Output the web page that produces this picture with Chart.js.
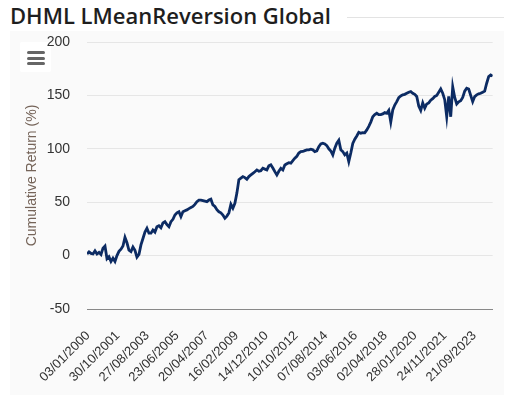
<!DOCTYPE html>
<html>
<head>
<meta charset="utf-8">
<script src="https://cdn.jsdelivr.net/npm/chart.js@4.4.1/dist/chart.umd.min.js"></script>
<style>
  body { margin: 0; background: #fff; width: 514px; height: 395px; overflow: hidden; position: relative; }
  #title {
    position: absolute; left: 10px; top: 0; margin: 0;
    font-family: "Open Sans", sans-serif; font-weight: 600; font-size: 22px; line-height: 30px;
    color: #1e1e1e; white-space: nowrap;
  }
  #rule { position: absolute; left: 347px; top: 17px; width: 157px; height: 1px; background: #e3e3e3; }
  #panel { position: absolute; left: 10px; top: 31px; width: 494px; height: 364px; background: #fafafa; }
  #menu { position: absolute; left: 10px; top: 11px; width: 31px; height: 30px; background: #fff; border-radius: 2px; }
  #menu span { position: absolute; left: 7px; width: 18px; height: 3px; background: #666; border-radius: 2px; }
  canvas { position: absolute; left: 0; top: 0; }
</style>
</head>
<body>
<div id="title">DHML LMeanReversion Global</div>
<div id="rule"></div>
<div id="panel">
  <div id="menu"><span style="top:9px"></span><span style="top:14.5px"></span><span style="top:20px"></span></div>
  <canvas id="chart" width="494" height="364"></canvas>
</div>
<script>
// x axis date labels, one every TICK_EVERY trading days
const dateLabels = [
  "03/01/2000", "30/10/2001", "27/08/2003", "23/06/2005", "20/04/2007",
  "16/02/2009", "14/12/2010", "10/10/2012", "07/08/2014", "03/06/2016",
  "02/04/2018", "28/01/2020", "24/11/2021", "21/09/2023"
];
const TICK_EVERY = 476;
const STEP = 32; // trading days between the values below

// cumulative return (%)
const cumulativeReturn = [
  1.5, 3.5, 2, 1.5, 4.4, 1.5, 3, 1, 7, 9,
  -3, -1, -5.5, -2.5, -5.5, 0, 4, 6, 9, 17,
  12, 5, 3.7, 8, 5, -1.5, 1, 10, 16, 22,
  25.6, 21, 21, 24, 22, 27, 28, 26, 30.5, 31.8,
  29, 27, 31.8, 34, 38, 40, 41, 36.5, 41, 42,
  42.8, 44, 45, 46, 48, 50.5, 52, 52, 51.5, 51,
  50.5, 52, 52.8, 47.5, 46, 43, 41, 40, 38, 35,
  37, 40, 48, 44.4, 49, 58.5, 71, 72.5, 74, 73,
  71.5, 74, 75.5, 77, 78.5, 80.2, 79, 79.5, 81.8, 81,
  80.2, 84, 85, 82, 78.6, 75.5, 79, 81.8, 80.2, 84.9,
  86, 87, 86.5, 89, 91.2, 93, 96, 97.4, 97.5, 98.3,
  99, 99, 99.6, 99, 97.4, 98, 102, 104.5, 105.2, 104.5,
  103, 100, 98, 94.3, 100.6, 105.2, 108, 99, 97.4, 94.3,
  96, 88, 96, 105, 109, 112, 115.5, 114.6, 115.2, 115,
  117.7, 121, 125, 130, 132, 133.3, 132, 132, 132.7, 134,
  133.3, 136, 125, 136.4, 141, 144.2, 148, 149.5, 150.5, 151,
  152, 153, 153.6, 152, 151, 149, 140, 136, 143, 138,
  142, 143, 145.5, 147, 149, 150, 153, 156, 152, 146,
  130, 149, 130, 158, 148, 142, 144, 145, 148, 154,
  156.7, 156, 150, 144.2, 148.9, 150.5, 151.5, 152, 153, 154,
  161.4, 167.6, 169.2, 168
];

const yMin = -50, yMax = 200, yStep = 50;

const labelFont = { family: "'Liberation Sans', Arial, sans-serif" };

new Chart(document.getElementById("chart"), {
  type: "line",
  data: {
    datasets: [{
      data: cumulativeReturn.map((v, i) => ({ x: i * STEP, y: v })),
      borderColor: "#0c2b63",
      borderWidth: 2.8,
      pointRadius: 0,
      tension: 0,
      fill: false
    }]
  },
  options: {
    responsive: false,
    animation: false,
    layout: { padding: { top: 11, right: 11, left: 0, bottom: 0 } },
    plugins: { legend: { display: false }, tooltip: { enabled: false } },
    scales: {
      x: {
        type: "linear",
        min: 0,
        max: (cumulativeReturn.length - 1) * STEP,
        afterBuildTicks: (scale) => {
          scale.ticks = dateLabels.map((_, k) => ({ value: k * TICK_EVERY }));
        },
        afterFit: (scale) => { scale.height = 86; },
        grid: { display: false, drawTicks: false },
        border: { display: true, color: "#888", width: 1 },
        ticks: {
          autoSkip: false,
          minRotation: 45,
          maxRotation: 45,
          padding: 19,
          labelOffset: 1,
          color: "#333",
          font: { ...labelFont, size: 13 },
          callback: (v) => dateLabels[Math.round(v / TICK_EVERY)]
        }
      },
      y: {
        min: yMin,
        max: yMax,
        afterFit: (scale) => {
          scale.width = 77;
          scale.paddingTop = 0;
          scale.paddingBottom = 0;
        },
        grid: {
          color: (ctx) => (ctx.tick && ctx.tick.value === yMin ? "#888" : "#e6e6e6"),
          drawTicks: false
        },
        border: { display: false },
        ticks: {
          stepSize: yStep,
          padding: 17,
          color: "#333",
          font: { ...labelFont, size: 14 }
        },
        title: {
          display: true,
          text: "Cumulative Return (%)",
          color: "#756459",
          font: { ...labelFont, size: 14 },
          padding: { top: 14, bottom: 0 }
        }
      }
    }
  }
});
</script>
</body>
</html>
